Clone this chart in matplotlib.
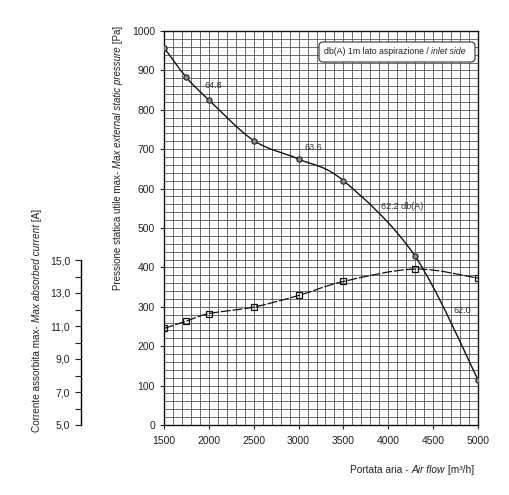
import numpy as np
import matplotlib
matplotlib.use('Agg')
import matplotlib.pyplot as plt
from matplotlib.path import Path
from matplotlib.patches import PathPatch, FancyBboxPatch
from matplotlib.ticker import MultipleLocator, FuncFormatter

plt.rcParams['font.family'] = ['Liberation Sans Narrow', 'Liberation Sans', 'DejaVu Sans']

# ---- data ----
airflow = [1500, 1750, 2000, 2500, 3000, 3500, 4300, 5000]          # m3/h
pressure = [958, 882, 825, 722, 675, 620, 428, 115]                # Pa
current = [10.85, 11.3, 11.75, 12.15, 12.85, 13.7, 14.45, 13.9]    # A
noise_labels = ['64.8', '63.6', '62.2 db(A)', '62.0']
noise_flow = [2050, 3160, 4150, 4830]
noise_press = [862, 705, 555, 290]


def smooth_path(x, y):
    # catmull-rom curve through the points, drawn as bezier segments
    pts = np.column_stack([x, y]).astype(float)
    verts = [pts[0]]
    codes = [Path.MOVETO]
    n = len(pts)
    for i in range(n - 1):
        p0 = pts[i - 1] if i > 0 else pts[i]
        p1 = pts[i]
        p2 = pts[i + 1]
        p3 = pts[i + 2] if i + 2 < n else pts[i + 1]
        verts += [p1 + (p2 - p0) / 6, p2 - (p3 - p1) / 6, p2]
        codes += [Path.CURVE4] * 3
    return Path(verts, codes)


fig = plt.figure(figsize=(5.09, 4.95), dpi=100)
ax = fig.add_axes([164 / 509, 1 - 425 / 495, 314 / 509, 394 / 495])

ax.set_xlim(1500, 5000)
ax.set_ylim(0, 1000)
ax.xaxis.set_major_locator(MultipleLocator(500))
ax.xaxis.set_minor_locator(MultipleLocator(100))
ax.yaxis.set_major_locator(MultipleLocator(100))
ax.yaxis.set_minor_locator(MultipleLocator(20))
ax.grid(True, which='both', color='#555555', lw=0.6)
ax.set_axisbelow(True)
ax.tick_params(which='both', labelsize=7.5, colors='#222222', length=3, width=0.8)
ax.tick_params(which='minor', length=0)
ax.tick_params(axis='x', pad=5)
for s in ax.spines.values():
    s.set_linewidth(1.0)
    s.set_color('#111111')

# pressure curve
ax.add_patch(PathPatch(smooth_path(airflow, pressure), fc='none', ec='#111111', lw=1.0, zorder=3))
ax.plot(airflow, pressure, 'o', ms=3.8, mfc='#888888', mec='#222222', mew=0.8, zorder=4)

for lab, x, y in zip(noise_labels, noise_flow, noise_press):
    ax.text(x, y, lab, fontsize=6.5, color='#333333', ha='center', va='center', zorder=5)

# current axis on the left
ax2 = ax.twinx()
ax2.set_ylim(5, 5 + 394 / 16.5)
ax2.yaxis.set_ticks_position('left')
ax2.yaxis.set_label_position('left')
ax2.spines['left'].set_visible(True)
ax2.spines['left'].set_position(('outward', 60))
ax2.spines['left'].set_bounds(5, 15)
ax2.spines['left'].set_linewidth(1.0)
ax2.spines['right'].set_visible(False)
ax2.spines['top'].set_visible(False)
ax2.spines['bottom'].set_visible(False)
ax2.set_yticks([5, 7, 9, 11, 13, 15])
ax2.set_yticks([6, 8, 10, 12, 14], minor=True)
ax2.yaxis.set_major_formatter(FuncFormatter(lambda v, p: f'{v:.1f}'.replace('.', ',')))
ax2.tick_params(which='both', labelsize=7.5, colors='#222222', length=4, width=0.8)

ax2.add_patch(PathPatch(smooth_path(airflow, current), fc='none', ec='#111111', lw=0.9,
                        ls=(0, (8, 1.5)), zorder=3))
ax2.plot(airflow, current, 's', ms=4.5, mfc='none', mec='#111111', mew=0.9, zorder=4)

# legend box (drawn on the top axes so the text sits above it)
box = FancyBboxPatch((319 / 509, 1 - 62 / 495), 156 / 509, 20 / 495,
                     boxstyle='round,pad=0,rounding_size=0.008', transform=fig.transFigure,
                     fc='white', ec='#333333', lw=0.8, zorder=10, clip_on=False)
ax2.add_patch(box)
t1 = ax2.text(324 / 509, 1 - 52 / 495, 'db(A) 1m lato aspirazione / ', fontsize=6.3,
              ha='left', va='center', color='#222222', transform=fig.transFigure, zorder=11)
ax2.annotate('inlet side', xy=(1, 0.5), xycoords=t1, fontsize=6.3, style='italic',
             ha='left', va='center', color='#222222', zorder=11)

# axis titles with italic english parts
p1 = fig.text(118 / 509, 1 - 290 / 495, 'Pressione statica utile max- ', rotation=90,
              fontsize=7, ha='center', va='bottom', color='#222222')
p2 = ax.annotate('Max external static pressure', xy=(0.5, 1), xycoords=p1, rotation=90,
                 fontsize=7, style='italic', ha='center', va='bottom', color='#222222')
ax.annotate(' [Pa]', xy=(0.5, 1), xycoords=p2, rotation=90,
            fontsize=7, ha='center', va='bottom', color='#222222')

c1 = fig.text(37 / 509, 1 - 432 / 495, 'Corrente assorbita max- ', rotation=90,
              fontsize=7.2, ha='center', va='bottom', color='#222222')
c2 = ax.annotate('Max absorbed current', xy=(0.5, 1), xycoords=c1, rotation=90,
                 fontsize=7.2, style='italic', ha='center', va='bottom', color='#222222')
ax.annotate(' [A]', xy=(0.5, 1), xycoords=c2, rotation=90,
            fontsize=7.2, ha='center', va='bottom', color='#222222')

x1 = fig.text(350 / 509, 1 - 470 / 495, 'Portata aria - ', fontsize=7.3,
              ha='left', va='center', color='#222222')
x2 = ax.annotate('Air flow', xy=(1, 0.5), xycoords=x1, fontsize=7.3, style='italic',
                 ha='left', va='center', color='#222222')
ax.annotate(' [m³/h]', xy=(1, 0.5), xycoords=x2, fontsize=7.3,
            ha='left', va='center', color='#222222')

fig.savefig('out.png', dpi=100)
